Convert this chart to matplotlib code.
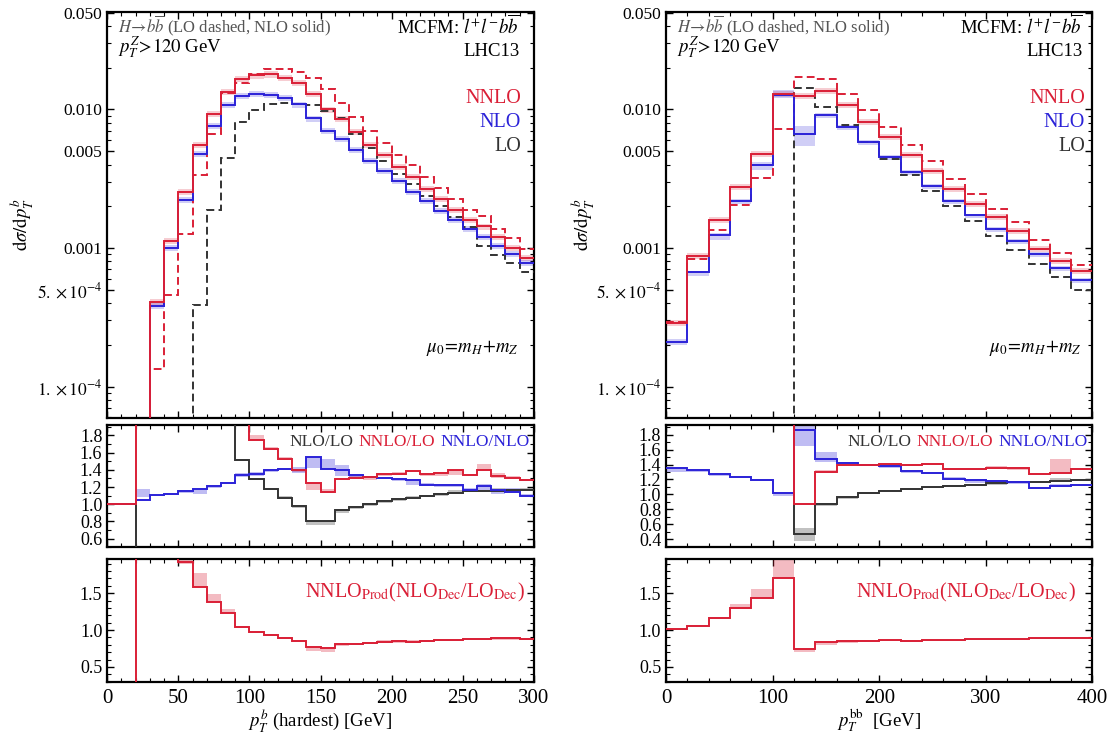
"""H -> bb with Z associated production: pT spectra and ratios (MCFM, LHC13)."""

import matplotlib
matplotlib.use('Agg')
import matplotlib.pyplot as plt
import numpy as np
from matplotlib.ticker import FixedLocator, MultipleLocator, NullFormatter

plt.rcParams['font.family'] = ['Liberation Serif', 'DejaVu Serif']
plt.rcParams['mathtext.fontset'] = 'stix'

RED = '#DA1F36'
BLUE = '#2B22D8'
GREY = '#333333'
NAN = np.nan
OFF_HI = 5.0      # off the top of a ratio panel
OFF_LO = 0.0      # off the bottom of a ratio panel
TINY = 1e-7       # below the log axis

# ---------------- left: hardest b-jet pT ----------------
edges_b = [0] + list(range(20, 301, 10))

nnlo_b = [TINY, TINY, 4.11e-4, 1.12e-3, 2.52e-3, 5.58e-3, 9.35e-3, 0.01334, 0.0165,
          0.0176, 0.0179, 0.01695, 0.0156, 0.01297, 0.0100, 8.57e-3, 6.85e-3, 5.52e-3,
          4.73e-3, 3.83e-3, 3.24e-3, 2.68e-3, 2.27e-3, 1.87e-3, 1.60e-3, 1.43e-3,
          1.20e-3, 1.0e-3, 8.48e-4]
nnlo_lodec_b = [TINY, TINY, 1.33e-4, 4.6e-4, 1.26e-3, 3.39e-3, 6.6e-3, 0.0132, 0.0156,
                0.0180, 0.0195, 0.0195, 0.0186, 0.0169, 0.0141, 0.01105, 8.85e-3,
                6.97e-3, 5.74e-3, 4.73e-3, 3.96e-3, 3.24e-3, 2.72e-3, 2.26e-3, 1.89e-3,
                1.69e-3, 1.37e-3, 1.18e-3, 9.84e-4]
nlo_b = [TINY, TINY, 3.83e-4, 1.0e-3, 2.21e-3, 4.8e-3, 7.66e-3, 0.0107, 0.01248, 0.013,
         0.0128, 0.01214, 0.01087, 8.61e-3, 6.97e-3, 6.14e-3, 5.08e-3, 4.28e-3, 3.58e-3,
         3.03e-3, 2.54e-3, 2.2e-3, 1.86e-3, 1.6e-3, 1.37e-3, 1.2e-3, 1.03e-3, 9.1e-4,
         7.79e-4]
lo_b = [TINY, TINY, TINY, TINY, TINY, 3.89e-4, 1.87e-3, 4.47e-3, 8.1e-3, 9.84e-3,
        0.01087, 0.01117, 0.011, 0.0107, 9.72e-3, 8.61e-3, 6.6e-3, 5.28e-3, 4.23e-3,
        3.44e-3, 2.92e-3, 2.36e-3, 2.0e-3, 1.67e-3, 1.42e-3, 1.03e-3, 8.95e-4, 7.79e-4,
        6.67e-4]

# ratio panel
r_nnlo_nlo_b = [1.0, 1.045, 1.103, 1.122, 1.150, 1.173, 1.212, 1.246, 1.343, 1.355, 1.393,
                1.413, 1.40, 1.548, 1.413, 1.393, 1.335, 1.316, 1.308, 1.297, 1.285, 1.22,
                1.22, 1.22, 1.16, 1.21, 1.16, 1.14, 1.09]
r_nnlo_nlo_b_lo = [NAN, 1.08, 1.09, 1.11, 1.13, 1.12, 1.19, 1.23, 1.32, 1.33, 1.37, 1.40,
                   1.36, 1.42, 1.41, 1.33, 1.31, 1.30, 1.30, 1.27, 1.22, 1.22, 1.20, 1.20,
                   1.15, 1.17, 1.12, 1.14, 1.09]
r_nnlo_nlo_b_hi = [NAN, 1.18, 1.11, 1.13, 1.16, 1.17, 1.22, 1.26, 1.36, 1.38, 1.41, 1.42,
                   1.43, 1.55, 1.53, 1.46, 1.35, 1.33, 1.32, 1.31, 1.29, 1.25, 1.23, 1.24,
                   1.19, 1.23, 1.18, 1.19, 1.12]
r_nnlo_lo_b = [1.0] + [OFF_HI] * 8 + [1.742, 1.645, 1.529, 1.393, 1.246, 1.142, 1.297,
                                      1.308, 1.316, 1.347, 1.355, 1.386, 1.355, 1.366,
                                      1.393, 1.335, 1.393, 1.324, 1.308, 1.277]
r_nnlo_lo_b_lo = [NAN] * 9 + [1.73, 1.63, 1.51, 1.38, 1.16, 1.13, 1.29, 1.29, 1.28, 1.33,
                              1.34, 1.37, 1.33, 1.33, 1.34, 1.33, 1.39, 1.31, 1.30, 1.27]
r_nnlo_lo_b_hi = [NAN] * 9 + [1.80, 1.66, 1.55, 1.41, 1.25, 1.18, 1.31, 1.33, 1.33, 1.36,
                              1.37, 1.40, 1.36, 1.38, 1.40, 1.35, 1.47, 1.36, 1.33, 1.29]
r_nlo_lo_b = [1.0, OFF_LO, NAN, NAN, NAN, NAN, NAN, OFF_HI, 1.517, 1.297, 1.173, 1.076,
              0.975, 0.801, 0.805, 0.929, 0.968, 0.999, 1.037, 1.057, 1.076, 1.095,
              1.115, 1.13, 1.153, 1.15, 1.153, 1.161, 1.169]
r_nlo_lo_b_lo = [NAN] * 8 + [1.50, 1.28, 1.16, 1.06, 0.96, 0.76, 0.76, 0.90, 0.94, 0.98,
                             1.02, 1.04, 1.06, 1.08, 1.10, 1.12, 1.14, 1.14, 1.14, 1.15, 1.16]
r_nlo_lo_b_hi = [NAN] * 8 + [1.53, 1.31, 1.19, 1.09, 0.99, 0.81, 0.81, 0.94, 0.98, 1.01,
                             1.05, 1.07, 1.09, 1.11, 1.13, 1.16, 1.16, 1.17, 1.19, 1.18, 1.19]

# NNLO_Prod (NLO_Dec / LO_Dec) panel
r_prod_b = [OFF_LO, OFF_HI, OFF_HI, OFF_HI, 1.918, 1.59, 1.386, 1.227, 1.045, 0.977,
            0.932, 0.895, 0.855, 0.773, 0.759, 0.805, 0.818, 0.827, 0.841, 0.85, 0.841,
            0.855, 0.864, 0.864, 0.873, 0.873, 0.886, 0.886, 0.873]
r_prod_b_lo = [NAN] * 4 + [1.90, 1.59, 1.386, 1.227, 1.03, 0.96, 0.92, 0.88, 0.84, 0.71,
                           0.70, 0.78, 0.80, 0.81, 0.82, 0.83, 0.83, 0.84, 0.85, 0.85,
                           0.86, 0.86, 0.87, 0.87, 0.86]
r_prod_b_hi = [NAN] * 4 + [1.96, 1.77, 1.49, 1.28, 1.06, 0.99, 0.95, 0.91, 0.87, 0.78,
                           0.77, 0.82, 0.83, 0.84, 0.86, 0.87, 0.86, 0.87, 0.88, 0.88,
                           0.89, 0.89, 0.90, 0.90, 0.89]

# ---------------- right: b-bbar system pT ----------------
edges_bb = list(range(0, 401, 20))

nnlo_bb = [2.86e-4, 8.8e-4, 1.6e-3, 2.74e-3, 4.8e-3, 0.013, 0.01248, 0.0137, 0.0107,
           8.15e-3, 6.31e-3, 4.73e-3, 3.62e-3, 2.68e-3, 2.09e-3, 1.67e-3, 1.33e-3,
           9.89e-4, 8.1e-4, 6.78e-4]
nnlo_lodec_bb = [2.9e-4, 8.33e-4, 1.36e-3, 2.06e-3, 3.21e-3, 7.25e-3, 0.0172, 0.0167,
                 0.013, 9.89e-3, 7.45e-3, 5.58e-3, 4.28e-3, 3.17e-3, 2.46e-3, 1.92e-3,
                 1.53e-3, 1.14e-3, 9.2e-4, 7.49e-4]
nlo_bb = [2.11e-4, 6.67e-4, 1.25e-3, 2.2e-3, 4.0e-3, 0.0128, 6.6e-3, 9.1e-3, 7.5e-3,
          5.84e-3, 4.55e-3, 3.54e-3, 2.79e-3, 2.2e-3, 1.72e-3, 1.38e-3, 1.12e-3, 9.04e-4,
          7.16e-4, 5.9e-4]
lo_bb = [TINY] * 6 + [0.0142, 0.0104, 7.7e-3, 5.84e-3, 4.42e-3, 3.39e-3, 2.6e-3, 2.0e-3,
                      1.57e-3, 1.23e-3, 9.73e-4, 7.7e-4, 6.17e-4, 5.0e-4]
nlo_bb_band_dn = [0.06, 0.06, 0.08, 0.06, 0.08, 0.05, 0.17, 0.05, 0.05, 0.05, 0.05, 0.05,
                  0.05, 0.05, 0.05, 0.05, 0.05, 0.05, 0.05, 0.05]
nlo_bb_band_up = [0.04, 0.03, 0.03, 0.03, 0.04, 0.08, 0.15, 0.03, 0.03, 0.03, 0.03, 0.03,
                  0.03, 0.03, 0.03, 0.03, 0.03, 0.03, 0.03, 0.03]

r_nnlo_nlo_bb = [1.36, 1.324, 1.271, 1.236, 1.192, 1.016, 1.866, 1.47, 1.426, 1.395,
                 1.382, 1.307, 1.285, 1.205, 1.192, 1.174, 1.161, 1.082, 1.117, 1.13]
r_nnlo_nlo_bb_lo = [1.30, 1.30, 1.25, 1.22, 1.18, 0.98, 1.65, 1.43, 1.41, 1.38, 1.35,
                    1.29, 1.27, 1.19, 1.15, 1.15, 1.14, 1.07, 1.10, 1.11]
r_nnlo_nlo_bb_hi = [1.37, 1.34, 1.28, 1.25, 1.20, 1.03, 1.93, 1.57, 1.44, 1.41, 1.40,
                    1.32, 1.30, 1.23, 1.20, 1.19, 1.17, 1.10, 1.14, 1.14]
r_nnlo_lo_bb = [OFF_HI] * 6 + [0.875, 1.302, 1.39, 1.395, 1.412, 1.395, 1.404, 1.337,
                               1.337, 1.36, 1.36, 1.271, 1.293, 1.337]
r_nnlo_lo_bb_lo = [NAN] * 6 + [0.86, 1.29, 1.38, 1.38, 1.39, 1.38, 1.39, 1.32, 1.33, 1.34,
                               1.33, 1.26, 1.30, 1.32]
r_nnlo_lo_bb_hi = [NAN] * 6 + [0.89, 1.32, 1.40, 1.41, 1.42, 1.41, 1.42, 1.35, 1.36, 1.38,
                               1.37, 1.29, 1.48, 1.35]
r_nlo_lo_bb = [OFF_HI] * 6 + [0.465, 0.866, 0.963, 1.016, 1.051, 1.073, 1.095, 1.117,
                              1.13, 1.148, 1.161, 1.17, 1.174, 1.192]
r_nlo_lo_bb_lo = [NAN] * 6 + [0.37, 0.84, 0.94, 1.00, 1.04, 1.06, 1.08, 1.10, 1.12, 1.13,
                              1.15, 1.16, 1.16, 1.18]
r_nlo_lo_bb_hi = [NAN] * 6 + [0.55, 0.88, 0.97, 1.03, 1.06, 1.08, 1.10, 1.13, 1.14, 1.16,
                              1.17, 1.18, 1.22, 1.20]

r_prod_bb = [1.009, 1.059, 1.159, 1.295, 1.441, 1.705, 0.75, 0.841, 0.855, 0.855, 0.864,
             0.85, 0.864, 0.864, 0.873, 0.877, 0.877, 0.886, 0.895, 0.895]
r_prod_bb_lo = [1.0, 1.05, 1.15, 1.29, 1.44, 1.70, 0.70, 0.80, 0.83, 0.84, 0.85, 0.84,
                0.85, 0.85, 0.86, 0.87, 0.87, 0.88, 0.89, 0.89]
r_prod_bb_hi = [1.02, 1.07, 1.18, 1.36, 1.56, 2.00, 0.75, 0.845, 0.86, 0.86, 0.87, 0.86,
                0.87, 0.87, 0.88, 0.885, 0.885, 0.89, 0.90, 0.90]

TOP_BAND = 0.05   # relative width of the scale band drawn on the spectra


def steps(ax, edges, values, color, dashed=False, lw=1.4):
    ls = (0, (4.0, 2.2)) if dashed else '-'
    ax.stairs(np.asarray(values, float), edges, baseline=None, color=color,
              lw=lw, linestyle=ls, zorder=3)


def band(ax, edges, lo, hi, color, alpha=0.28):
    ax.stairs(np.asarray(hi, float), edges, baseline=np.asarray(lo, float), fill=True,
              color=color, alpha=alpha, lw=0, zorder=2)


def frame(ax):
    for s in ax.spines.values():
        s.set_linewidth(1.6)
    ax.tick_params(which='both', direction='in', top=True, right=True)
    ax.tick_params(which='major', length=5, width=1.0)
    ax.tick_params(which='minor', length=2.6, width=0.8)


fig = plt.figure(figsize=(11.15, 7.38), dpi=100)
lefts = [0.0962, 0.5973]
width = 0.3825
ax_top = [fig.add_axes([x, 0.4332, width, 0.5505]) for x in lefts]
ax_mid = [fig.add_axes([x, 0.2584, width, 0.1657]) for x in lefts]
ax_bot = [fig.add_axes([x, 0.0763, width, 0.1658]) for x in lefts]

panels = [
    dict(edges=edges_b, nnlo=nnlo_b, nnlo_d=nnlo_lodec_b, nlo=nlo_b, lo=lo_b,
         nlo_dn=[TOP_BAND] * len(nlo_b), nlo_up=[TOP_BAND] * len(nlo_b),
         r1=(r_nlo_lo_b, r_nlo_lo_b_lo, r_nlo_lo_b_hi),
         r2=(r_nnlo_lo_b, r_nnlo_lo_b_lo, r_nnlo_lo_b_hi),
         r3=(r_nnlo_nlo_b, r_nnlo_nlo_b_lo, r_nnlo_nlo_b_hi),
         rp=(r_prod_b, r_prod_b_lo, r_prod_b_hi),
         xmax=300, major=50, minor=10, mid_ylim=(0.5, 1.92),
         mid_ticks=[0.6, 0.8, 1.0, 1.2, 1.4, 1.6, 1.8],
         xlabel=r'$p_T^b$ (hardest) [GeV]', tx_r=0.966, leg_r=0.970, prod_r=0.978,
         rat_x=0.428, ylab_x=-0.167),
    dict(edges=edges_bb, nnlo=nnlo_bb, nnlo_d=nnlo_lodec_bb, nlo=nlo_bb, lo=lo_bb,
         nlo_dn=nlo_bb_band_dn, nlo_up=nlo_bb_band_up,
         r1=(r_nlo_lo_bb, r_nlo_lo_bb_lo, r_nlo_lo_bb_hi),
         r2=(r_nnlo_lo_bb, r_nnlo_lo_bb_lo, r_nnlo_lo_bb_hi),
         r3=(r_nnlo_nlo_bb, r_nnlo_nlo_bb_lo, r_nnlo_nlo_bb_hi),
         rp=(r_prod_bb, r_prod_bb_lo, r_prod_bb_hi),
         xmax=400, major=100, minor=20, mid_ylim=(0.29, 1.93),
         mid_ticks=[0.4, 0.6, 0.8, 1.0, 1.2, 1.4, 1.6, 1.8],
         xlabel=r'$p_T^{\mathrm{bb}}$  [GeV]', tx_r=0.976, leg_r=0.983, prod_r=0.960,
         rat_x=0.426, ylab_x=-0.161),
]

major_y = [0.05, 0.01, 0.005, 0.001, 5e-4, 1e-4]
major_y_lbl = ['0.050', '0.010', '0.005', '0.001', r'$5.\times10^{-4}$',
               r'$1.\times10^{-4}$']
minor_y = [m * 10.0 ** e for e in (-5, -4, -3, -2) for m in range(2, 10)
           if m not in (1, 5)]

for p, at, am, ab in zip(panels, ax_top, ax_mid, ax_bot):
    e = p['edges']
    nnlo = np.asarray(p['nnlo'])
    nlo = np.asarray(p['nlo'])

    # spectra
    band(at, e, nnlo * (1 - TOP_BAND), nnlo * (1 + TOP_BAND), RED, 0.22)
    band(at, e, nlo * (1 - np.asarray(p['nlo_dn'])), nlo * (1 + np.asarray(p['nlo_up'])),
         BLUE, 0.22)
    steps(at, e, p['lo'], GREY, dashed=True)
    steps(at, e, p['nnlo_d'], RED, dashed=True)
    steps(at, e, p['nlo'], BLUE)
    steps(at, e, p['nnlo'], RED)
    at.set_yscale('log')
    at.set_ylim(5.9e-5, 0.0505)
    at.yaxis.set_major_locator(FixedLocator(major_y))
    at.set_yticklabels(major_y_lbl)
    at.yaxis.set_minor_locator(FixedLocator(minor_y))
    at.yaxis.set_minor_formatter(NullFormatter())
    at.tick_params(axis='y', labelsize=12.5)
    at.set_ylabel(r'$\mathrm{d}\sigma/\mathrm{d}p_T^b$', fontsize=13.5)
    at.yaxis.set_label_coords(p['ylab_x'], 0.477)

    at.text(0.025, 0.950, r'$H\!\rightarrow\! b\overline{b}$ (LO dashed, NLO solid)',
            transform=at.transAxes, color='#555555', fontsize=12, va='baseline')
    at.text(0.025, 0.901, r'$p_T^Z\!>\!120$ GeV', transform=at.transAxes,
            fontsize=13.5, va='baseline')
    at.text(p['tx_r'], 0.945, r'MCFM: $l^{+}l^{-}b\overline{b}$', transform=at.transAxes,
            fontsize=13.5, va='baseline', ha='right')
    at.text(p['tx_r'], 0.891, 'LHC13', transform=at.transAxes, fontsize=13.5,
            va='baseline', ha='right')
    for lbl, col, yy in (('NNLO', RED, 0.777), ('NLO', BLUE, 0.718), ('LO', GREY, 0.659)):
        at.text(p['leg_r'], yy, lbl, transform=at.transAxes, color=col, fontsize=14.5,
                va='baseline', ha='right')
    at.text(p['tx_r'], 0.164, r'$\mu_0\!=\!m_H\!+\!m_Z$', transform=at.transAxes,
            fontsize=13.5, va='baseline', ha='right')

    # ratios
    for (vals, lo, hi), col in ((p['r1'], GREY), (p['r2'], RED), (p['r3'], BLUE)):
        band(am, e, lo, hi, col, 0.3)
    for (vals, lo, hi), col in ((p['r1'], GREY), (p['r3'], BLUE), (p['r2'], RED)):
        steps(am, e, vals, col)
    am.set_ylim(*p['mid_ylim'])
    am.yaxis.set_major_locator(FixedLocator(p['mid_ticks']))
    am.yaxis.set_minor_locator(MultipleLocator(0.1))
    am.tick_params(axis='y', labelsize=13)
    t1 = am.text(p['rat_x'], 0.86, 'NLO/LO', transform=am.transAxes, color=GREY,
                 fontsize=12.5, va='center')
    t2 = am.annotate('NNLO/LO', xy=(1, 0), xycoords=t1, xytext=(3.5, 0),
                     textcoords='offset points', color=RED, fontsize=12.5, va='bottom')
    am.annotate('NNLO/NLO', xy=(1, 0), xycoords=t2, xytext=(3.5, 0),
                textcoords='offset points', color=BLUE, fontsize=12.5, va='bottom')

    vals, lo, hi = p['rp']
    band(ab, e, lo, hi, RED, 0.3)
    steps(ab, e, vals, RED)
    ab.set_ylim(0.3, 1.96)
    ab.yaxis.set_major_locator(FixedLocator([0.5, 1.0, 1.5]))
    ab.yaxis.set_major_formatter(plt.FuncFormatter(lambda v, _: f'{v:.1f}'))
    ab.yaxis.set_minor_locator(MultipleLocator(0.1))
    ab.tick_params(axis='y', labelsize=13)
    ab.text(p['prod_r'], 0.725,
            r'NNLO$_{\mathrm{Prod}}$(NLO$_{\mathrm{Dec}}$/LO$_{\mathrm{Dec}}$)',
            transform=ab.transAxes, color=RED, fontsize=14.5, va='center', ha='right')

    for ax in (at, am, ab):
        ax.set_xlim(0, p['xmax'])
        ax.xaxis.set_major_locator(MultipleLocator(p['major']))
        ax.xaxis.set_minor_locator(MultipleLocator(p['minor']))
        frame(ax)
    at.tick_params(axis='x', labelbottom=False)
    am.tick_params(axis='x', labelbottom=False)
    ab.tick_params(axis='x', labelsize=15, pad=5)
    ab.set_xlabel(p['xlabel'], fontsize=13.5)
    ab.xaxis.set_label_coords(0.5, -0.215)

fig.savefig('out.png', dpi=100)
print('saved out.png')
